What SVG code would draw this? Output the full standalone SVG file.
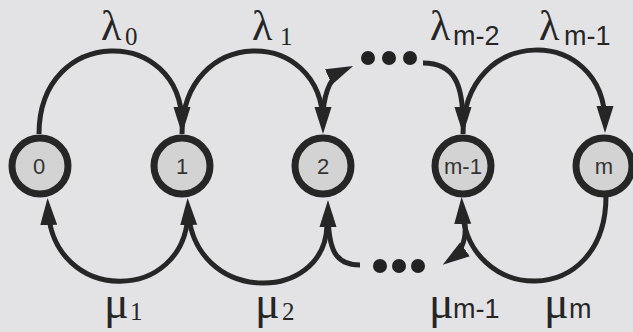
<svg xmlns="http://www.w3.org/2000/svg" width="633" height="332" viewBox="0 0 633 332">
<style>
.bg{fill:#e3e3e5}
.node circle{fill:#d3d3d4;stroke:#262626;stroke-width:7}
.node text{font-family:"Liberation Sans",Arial,sans-serif;font-size:22px;fill:#333;text-anchor:middle}
.edge{fill:none;stroke:#262626;stroke-width:5}
.dot{fill:#222}
.gk{font-family:"Liberation Serif","Times New Roman",serif;fill:#262626}
.ss{font-family:"Liberation Serif","Times New Roman",serif;font-size:25px;fill:#262626}
.sm{font-family:"Liberation Sans",Arial,sans-serif;font-size:27px;fill:#262626}
</style>
<defs>
<marker id="ah" markerUnits="userSpaceOnUse" markerWidth="30" markerHeight="20" refX="17" refY="9" orient="auto">
<path d="M0,0.5 L27,9 L0,17.5 Z" fill="#262626"/>
</marker>
</defs>
<rect class="bg" width="633" height="332"/>
<g id="connectors">
<path class="edge" d="M39,134 C39,25 182,25 182,124" marker-end="url(#ah)"/>
<path class="edge" d="M182,134 C182,25 323,25 323,124" marker-end="url(#ah)"/>
<path class="edge" d="M323,112 Q326,78 344,70" marker-end="url(#ah)"/>
<path class="edge" d="M423,63 C455,63 463,85 463,124" marker-end="url(#ah)"/>
<path class="edge" d="M463,134 C463,24 605,24 605,123" marker-end="url(#ah)"/>
<path class="edge" d="M188,212 C186,305 52,305 48,208" marker-end="url(#ah)"/>
<path class="edge" d="M327,225 C325,305 192,305 188,208" marker-end="url(#ah)"/>
<path class="edge" d="M360,265 C335,265 328,250 328,210" marker-end="url(#ah)"/>
<path class="edge" d="M465,224 Q467,248 451,259" marker-end="url(#ah)"/>
<path class="edge" d="M606,196 C606,310 466,305 462,207" marker-end="url(#ah)"/>
<circle class="dot" cx="368" cy="58" r="7"/>
<circle class="dot" cx="389" cy="58" r="7"/>
<circle class="dot" cx="410" cy="58" r="7"/>
<circle class="dot" cx="380" cy="266" r="7"/>
<circle class="dot" cx="399" cy="266" r="7"/>
<circle class="dot" cx="418" cy="266" r="7"/>
</g>
<g id="n0" class="node"><circle cx="40" cy="166" r="28"/><text x="39" y="174">0</text></g>
<g id="n1" class="node"><circle cx="182" cy="166" r="28"/><text x="182" y="174">1</text></g>
<g id="n2" class="node"><circle cx="323" cy="166" r="28"/><text x="323" y="174">2</text></g>
<g id="nm1" class="node"><circle cx="463" cy="166" r="28"/><text x="463" y="174">m-1</text></g>
<g id="nm" class="node"><circle cx="604" cy="166" r="28"/><text x="604" y="174">m</text></g>
<g id="labels">
<text class="gk" x="101" y="40" font-size="42">λ</text><text class="ss" x="125" y="45">0</text>
<text class="gk" x="252" y="40" font-size="42">λ</text><text class="ss" x="280" y="45">1</text>
<text class="gk" x="430" y="40" font-size="42">λ</text><text class="sm" x="453" y="45">m-2</text>
<text class="gk" x="539" y="40" font-size="42">λ</text><text class="sm" x="564" y="45">m-1</text>
<text class="gk" x="104" y="318" font-size="46">μ</text><text class="ss" x="130" y="320" font-size="22">1</text>
<text class="gk" x="255" y="318" font-size="46">μ</text><text class="ss" x="282" y="320" font-size="22">2</text>
<text class="gk" x="429" y="318" font-size="46">μ</text><text class="sm" x="453" y="318">m-1</text>
<text class="gk" x="544" y="318" font-size="46">μ</text><text class="sm" x="569" y="318">m</text>
</g>
</svg>
